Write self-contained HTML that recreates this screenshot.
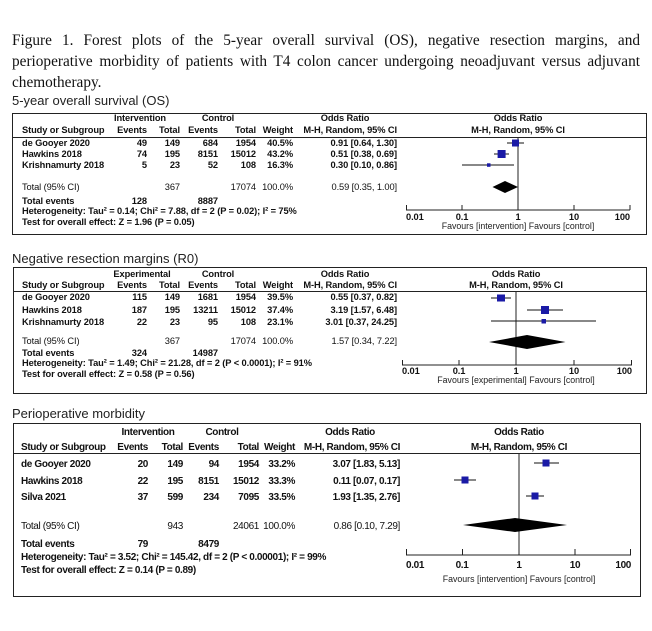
<!DOCTYPE html>
<html><head><meta charset="utf-8"><style>
body{margin:0;background:#fff;width:652px;height:631px;overflow:hidden;position:relative}
.cap{position:absolute;left:12px;width:628px;font-family:"Liberation Serif",serif;font-size:15.3px;line-height:21px;top:30px;text-align:justify;color:#111}
svg{position:absolute;left:0;top:0}
.t{font-family:"Liberation Sans",sans-serif;font-weight:bold;font-size:9.3px;fill:#111;letter-spacing:-0.1px}
.s{font-family:"Liberation Sans",sans-serif;font-size:13px;fill:#222}
.f{font-family:"Liberation Sans",sans-serif;font-size:8.8px;fill:#222}
.t3{font-family:"Liberation Sans",sans-serif;font-weight:bold;font-size:10px;fill:#111;letter-spacing:-0.35px}
</style></head><body>
<div class="cap">Figure 1. Forest plots of the 5-year overall survival (OS), negative resection margins, and perioperative morbidity of patients with T4 colon cancer undergoing neoadjuvant versus adjuvant chemotherapy.</div>
<svg width="652" height="631" xmlns="http://www.w3.org/2000/svg">
<text class="s" x="12" y="105">5-year overall survival (OS)</text>
<rect x="12.5" y="113.5" width="634" height="121" fill="none" stroke="#222"/>
<g class="t">
<text x="140" y="121" text-anchor="middle">Intervention</text>
<text x="218" y="121" text-anchor="middle">Control</text>
<text x="345" y="121" text-anchor="middle">Odds Ratio</text>
<text x="518" y="121" text-anchor="middle">Odds Ratio</text>
<text x="22" y="133">Study or Subgroup</text>
<text x="147" y="133" text-anchor="end">Events</text>
<text x="180" y="133" text-anchor="end">Total</text>
<text x="218" y="133" text-anchor="end">Events</text>
<text x="256" y="133" text-anchor="end">Total</text>
<text x="293" y="133" text-anchor="end">Weight</text>
<text x="397" y="133" text-anchor="end">M-H, Random, 95% CI</text>
<text x="518" y="133" text-anchor="middle">M-H, Random, 95% CI</text>
<text x="22" y="146">de Gooyer 2020</text><text x="147" y="146" text-anchor="end">49</text><text x="180" y="146" text-anchor="end">149</text><text x="218" y="146" text-anchor="end">684</text><text x="256" y="146" text-anchor="end">1954</text><text x="293" y="146" text-anchor="end">40.5%</text><text x="397" y="146" text-anchor="end">0.91 [0.64, 1.30]</text>
<text x="22" y="157">Hawkins 2018</text><text x="147" y="157" text-anchor="end">74</text><text x="180" y="157" text-anchor="end">195</text><text x="218" y="157" text-anchor="end">8151</text><text x="256" y="157" text-anchor="end">15012</text><text x="293" y="157" text-anchor="end">43.2%</text><text x="397" y="157" text-anchor="end">0.51 [0.38, 0.69]</text>
<text x="22" y="168">Krishnamurty 2018</text><text x="147" y="168" text-anchor="end">5</text><text x="180" y="168" text-anchor="end">23</text><text x="218" y="168" text-anchor="end">52</text><text x="256" y="168" text-anchor="end">108</text><text x="293" y="168" text-anchor="end">16.3%</text><text x="397" y="168" text-anchor="end">0.30 [0.10, 0.86]</text>
<text x="22" y="190" font-weight="normal">Total (95% CI)</text><text x="180" y="190" text-anchor="end" font-weight="normal">367</text><text x="256" y="190" text-anchor="end" font-weight="normal">17074</text><text x="293" y="190" text-anchor="end" font-weight="normal">100.0%</text><text x="397" y="190" text-anchor="end" font-weight="normal">0.59 [0.35, 1.00]</text>
<text x="22" y="204">Total events</text><text x="147" y="204" text-anchor="end">128</text><text x="218" y="204" text-anchor="end">8887</text>
<text x="22" y="214">Heterogeneity: Tau² = 0.14; Chi² = 7.88, df = 2 (P = 0.02); I² = 75%</text>
<text x="22" y="225">Test for overall effect: Z = 1.96 (P = 0.05)</text>
</g>
<line x1="12" y1="137.5" x2="646" y2="137.5" stroke="#222"/>
<line x1="518" y1="137" x2="518" y2="210" stroke="#222"/>
<line x1="406" y1="210" x2="630" y2="210" stroke="#222"/>
<path d="M406.5 205v5M462 205v5M518 205v5M574 205v5M630 205v5" stroke="#222"/>
<g class="t"><text x="406" y="220">0.01</text><text x="462" y="220" text-anchor="middle">0.1</text><text x="518" y="220" text-anchor="middle">1</text><text x="574" y="220" text-anchor="middle">10</text><text x="630" y="220" text-anchor="end">100</text></g>
<text class="f" x="518" y="229" text-anchor="middle">Favours [intervention]  Favours [control]</text>
<g stroke="#111"><line x1="507" y1="143" x2="524" y2="143"/><line x1="494" y1="154" x2="509" y2="154"/><line x1="462" y1="165" x2="514" y2="165"/></g>
<g fill="#1a1aa6"><rect x="512" y="139.5" width="7" height="7"/><rect x="497.6" y="150" width="8" height="8"/><rect x="487" y="163.3" width="3.5" height="3.5"/></g>
<polygon points="492.5,187 505,181 518,187 505,193" fill="#000"/>

<text class="s" x="12" y="263">Negative resection margins (R0)</text>
<rect x="13.5" y="267.5" width="633" height="126" fill="none" stroke="#222"/>
<g class="t">
<text x="142" y="277" text-anchor="middle">Experimental</text>
<text x="218" y="277" text-anchor="middle">Control</text>
<text x="345" y="277" text-anchor="middle">Odds Ratio</text>
<text x="516" y="277" text-anchor="middle">Odds Ratio</text>
<text x="22" y="288">Study or Subgroup</text>
<text x="147" y="288" text-anchor="end">Events</text>
<text x="180" y="288" text-anchor="end">Total</text>
<text x="218" y="288" text-anchor="end">Events</text>
<text x="256" y="288" text-anchor="end">Total</text>
<text x="293" y="288" text-anchor="end">Weight</text>
<text x="397" y="288" text-anchor="end">M-H, Random, 95% CI</text>
<text x="516" y="288" text-anchor="middle">M-H, Random, 95% CI</text>
<text x="22" y="300">de Gooyer 2020</text><text x="147" y="300" text-anchor="end">115</text><text x="180" y="300" text-anchor="end">149</text><text x="218" y="300" text-anchor="end">1681</text><text x="256" y="300" text-anchor="end">1954</text><text x="293" y="300" text-anchor="end">39.5%</text><text x="397" y="300" text-anchor="end">0.55 [0.37, 0.82]</text>
<text x="22" y="313">Hawkins 2018</text><text x="147" y="313" text-anchor="end">187</text><text x="180" y="313" text-anchor="end">195</text><text x="218" y="313" text-anchor="end">13211</text><text x="256" y="313" text-anchor="end">15012</text><text x="293" y="313" text-anchor="end">37.4%</text><text x="397" y="313" text-anchor="end">3.19 [1.57, 6.48]</text>
<text x="22" y="325">Krishnamurty 2018</text><text x="147" y="325" text-anchor="end">22</text><text x="180" y="325" text-anchor="end">23</text><text x="218" y="325" text-anchor="end">95</text><text x="256" y="325" text-anchor="end">108</text><text x="293" y="325" text-anchor="end">23.1%</text><text x="397" y="325" text-anchor="end">3.01 [0.37, 24.25]</text>
<text x="22" y="344" font-weight="normal">Total (95% CI)</text><text x="180" y="344" text-anchor="end" font-weight="normal">367</text><text x="256" y="344" text-anchor="end" font-weight="normal">17074</text><text x="293" y="344" text-anchor="end" font-weight="normal">100.0%</text><text x="397" y="344" text-anchor="end" font-weight="normal">1.57 [0.34, 7.22]</text>
<text x="22" y="356">Total events</text><text x="147" y="356" text-anchor="end">324</text><text x="218" y="356" text-anchor="end">14987</text>
<text x="22" y="366">Heterogeneity: Tau² = 1.49; Chi² = 21.28, df = 2 (P &lt; 0.0001); I² = 91%</text>
<text x="22" y="377">Test for overall effect: Z = 0.58 (P = 0.56)</text>
</g>
<line x1="13" y1="291.5" x2="646" y2="291.5" stroke="#222"/>
<line x1="516" y1="291" x2="516" y2="365" stroke="#222"/>
<line x1="402" y1="365" x2="632" y2="365" stroke="#222"/>
<path d="M402.5 360v5M459 360v5M516 360v5M574 360v5M631.5 360v5" stroke="#222"/>
<g class="t"><text x="402" y="374">0.01</text><text x="459" y="374" text-anchor="middle">0.1</text><text x="516" y="374" text-anchor="middle">1</text><text x="574" y="374" text-anchor="middle">10</text><text x="632" y="374" text-anchor="end">100</text></g>
<text class="f" x="516" y="383" text-anchor="middle">Favours [experimental]  Favours [control]</text>
<g stroke="#111"><line x1="491" y1="298" x2="511" y2="298"/><line x1="527" y1="310" x2="563" y2="310"/><line x1="491" y1="321" x2="596" y2="321"/></g>
<g fill="#1a1aa6"><rect x="497" y="294.5" width="8" height="7"/><rect x="541" y="306" width="8" height="8"/><rect x="541.5" y="319" width="4.5" height="4.5"/></g>
<polygon points="489,342 527,335 565.5,342 527,349" fill="#000"/>

<text class="s" x="12" y="418">Perioperative morbidity</text>
<rect x="13.5" y="423.5" width="627" height="173" fill="none" stroke="#222"/>
<g class="t3">
<text x="148" y="435" text-anchor="middle">Intervention</text>
<text x="222" y="435" text-anchor="middle">Control</text>
<text x="350" y="435" text-anchor="middle">Odds Ratio</text>
<text x="519" y="435" text-anchor="middle">Odds Ratio</text>
<text x="21" y="450">Study or Subgroup</text>
<text x="148" y="450" text-anchor="end">Events</text>
<text x="183" y="450" text-anchor="end">Total</text>
<text x="219" y="450" text-anchor="end">Events</text>
<text x="259" y="450" text-anchor="end">Total</text>
<text x="295" y="450" text-anchor="end">Weight</text>
<text x="400" y="450" text-anchor="end">M-H, Random, 95% CI</text>
<text x="519" y="450" text-anchor="middle">M-H, Random, 95% CI</text>
<text x="21" y="467">de Gooyer 2020</text><text x="148" y="467" text-anchor="end">20</text><text x="183" y="467" text-anchor="end">149</text><text x="219" y="467" text-anchor="end">94</text><text x="259" y="467" text-anchor="end">1954</text><text x="295" y="467" text-anchor="end">33.2%</text><text x="400" y="467" text-anchor="end">3.07 [1.83, 5.13]</text>
<text x="21" y="484">Hawkins 2018</text><text x="148" y="484" text-anchor="end">22</text><text x="183" y="484" text-anchor="end">195</text><text x="219" y="484" text-anchor="end">8151</text><text x="259" y="484" text-anchor="end">15012</text><text x="295" y="484" text-anchor="end">33.3%</text><text x="400" y="484" text-anchor="end">0.11 [0.07, 0.17]</text>
<text x="21" y="500">Silva 2021</text><text x="148" y="500" text-anchor="end">37</text><text x="183" y="500" text-anchor="end">599</text><text x="219" y="500" text-anchor="end">234</text><text x="259" y="500" text-anchor="end">7095</text><text x="295" y="500" text-anchor="end">33.5%</text><text x="400" y="500" text-anchor="end">1.93 [1.35, 2.76]</text>
<text x="21" y="529" font-weight="normal">Total (95% CI)</text><text x="183" y="529" text-anchor="end" font-weight="normal">943</text><text x="259" y="529" text-anchor="end" font-weight="normal">24061</text><text x="295" y="529" text-anchor="end" font-weight="normal">100.0%</text><text x="400" y="529" text-anchor="end" font-weight="normal">0.86 [0.10, 7.29]</text>
<text x="21" y="547">Total events</text><text x="148" y="547" text-anchor="end">79</text><text x="219" y="547" text-anchor="end">8479</text>
<text x="21" y="560">Heterogeneity: Tau² = 3.52; Chi² = 145.42, df = 2 (P &lt; 0.00001); I² = 99%</text>
<text x="21" y="573">Test for overall effect: Z = 0.14 (P = 0.89)</text>
</g>
<line x1="13" y1="453.5" x2="640" y2="453.5" stroke="#222"/>
<line x1="519" y1="453" x2="519" y2="555" stroke="#222"/>
<line x1="406" y1="555" x2="631" y2="555" stroke="#222"/>
<path d="M406.5 549v6M462.5 549v6M519 549v6M575 549v6M630.5 549v6" stroke="#222"/>
<g class="t3"><text x="406" y="568">0.01</text><text x="462" y="568" text-anchor="middle">0.1</text><text x="519" y="568" text-anchor="middle">1</text><text x="575" y="568" text-anchor="middle">10</text><text x="631" y="568" text-anchor="end">100</text></g>
<text class="f" x="519" y="582" text-anchor="middle">Favours [intervention]  Favours [control]</text>
<g stroke="#111"><line x1="534" y1="463" x2="559" y2="463"/><line x1="454" y1="480" x2="476" y2="480"/><line x1="526" y1="496" x2="544" y2="496"/></g>
<g fill="#1a1aa6"><rect x="542.5" y="459.5" width="7" height="7"/><rect x="461.5" y="476.5" width="7" height="7"/><rect x="531.5" y="492.5" width="7" height="7"/></g>
<polygon points="463,525 515,518 567,525 515,532" fill="#000"/>
</svg>
</body></html>
